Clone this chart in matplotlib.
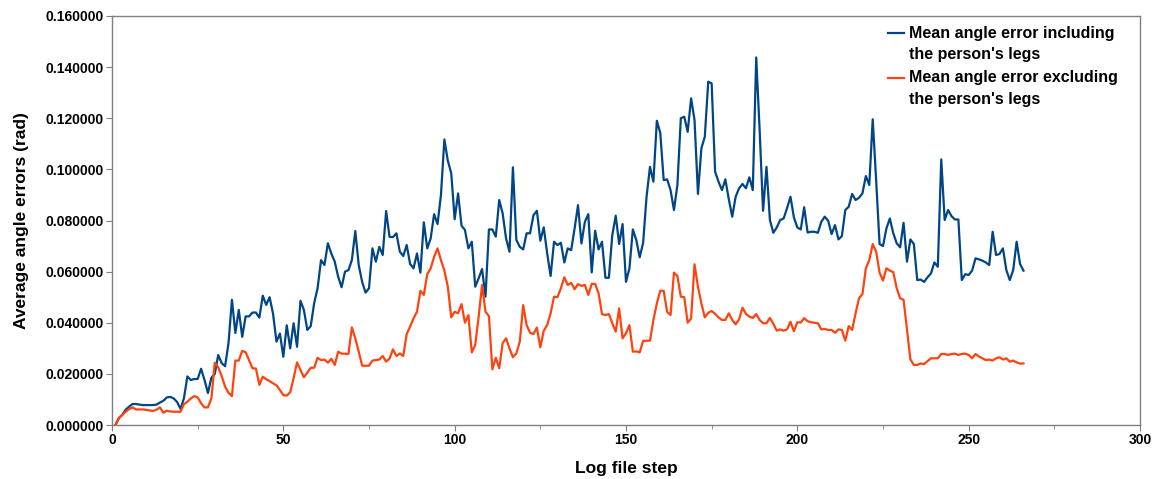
import numpy as np
import matplotlib
matplotlib.use("Agg")
import matplotlib.pyplot as plt
from matplotlib.ticker import FormatStrFormatter, MultipleLocator

# mean angle error per log file step
incl_legs = [
    0.0, 0.0027, 0.004, 0.006, 0.0072, 0.0082, 0.0082, 0.008, 0.0078, 0.0078,
    0.0078, 0.0078, 0.008, 0.0088, 0.0095, 0.0108, 0.011, 0.0104, 0.009, 0.0063,
    0.0105, 0.019, 0.0176, 0.018, 0.018, 0.022, 0.0176, 0.0125, 0.0185, 0.02,
    0.0274, 0.0242, 0.023, 0.032, 0.049, 0.036, 0.045, 0.0345, 0.0425, 0.0425,
    0.044, 0.044, 0.042, 0.0506, 0.047, 0.05, 0.0435, 0.0326, 0.0358, 0.0267,
    0.039, 0.030, 0.0398, 0.0306, 0.0486, 0.045, 0.0372, 0.0387, 0.0477, 0.0535,
    0.0645, 0.0626, 0.0711, 0.0671, 0.0639, 0.058, 0.0539, 0.060, 0.0606, 0.0645,
    0.0759, 0.0626, 0.056, 0.0518, 0.0535, 0.0691, 0.0639, 0.0697, 0.0665, 0.0837,
    0.0736, 0.0735, 0.075, 0.0678, 0.0661, 0.0704, 0.063, 0.0613, 0.0671, 0.0596,
    0.0793, 0.0691, 0.073, 0.0825, 0.0786, 0.090, 0.1117, 0.1034, 0.0985, 0.0805,
    0.0906, 0.078, 0.0763, 0.0691, 0.0717, 0.0541, 0.0574, 0.061, 0.0502, 0.0765,
    0.0765, 0.0737, 0.088, 0.0828, 0.073, 0.0678, 0.1008, 0.0724, 0.0697, 0.0687,
    0.075, 0.075, 0.0821, 0.0838, 0.0721, 0.0773, 0.0671, 0.0583, 0.0717, 0.0704,
    0.0713, 0.0636, 0.0691, 0.0684, 0.0769, 0.086, 0.071, 0.0795, 0.0825, 0.0597,
    0.076, 0.0687, 0.0717, 0.0576, 0.0576, 0.0743, 0.0819, 0.0708, 0.0786, 0.056,
    0.0613, 0.0765, 0.0724, 0.0656, 0.0713, 0.0893, 0.101, 0.0952, 0.119, 0.1143,
    0.0958, 0.0961, 0.0919, 0.0841, 0.0939, 0.12, 0.1206, 0.1147, 0.1278, 0.1193,
    0.0904, 0.1082, 0.1128, 0.1343, 0.1336, 0.0991, 0.0952, 0.0919, 0.0961, 0.0883,
    0.0815, 0.0893, 0.0926, 0.0943, 0.0926, 0.0969, 0.0919, 0.1438, 0.1154, 0.0838,
    0.101, 0.0802, 0.0752, 0.0773, 0.0802, 0.0808, 0.0848, 0.0893, 0.0812, 0.0773,
    0.0765, 0.0852, 0.0753, 0.0756, 0.0756, 0.0752, 0.0795, 0.0815, 0.0799, 0.0747,
    0.0782, 0.0726, 0.0739, 0.0841, 0.0854, 0.0904, 0.088, 0.0889, 0.0906, 0.0974,
    0.0939, 0.1196, 0.0958, 0.0708, 0.070, 0.0769, 0.0808, 0.075, 0.0711, 0.0695,
    0.0791, 0.0639, 0.0726, 0.0708, 0.0567, 0.0569, 0.056, 0.0578, 0.0593, 0.0636,
    0.0619, 0.1039, 0.0802, 0.0841, 0.0817, 0.0804, 0.0804, 0.0567, 0.059, 0.0587,
    0.0604, 0.0652, 0.0648, 0.0643, 0.0636, 0.0626, 0.0756, 0.0665, 0.0669, 0.0691,
    0.0606, 0.0567, 0.0606, 0.0717, 0.063, 0.0604,
]

excl_legs = [
    0.0, 0.0027, 0.0039, 0.0052, 0.0062, 0.0069, 0.0061, 0.0061, 0.0061, 0.0059,
    0.0057, 0.0055, 0.006, 0.0069, 0.0048, 0.0056, 0.0053, 0.0052, 0.0052, 0.0052,
    0.0082, 0.0091, 0.0104, 0.0113, 0.0108, 0.0085, 0.0069, 0.0069, 0.0104, 0.0244,
    0.0226, 0.0192, 0.015, 0.0126, 0.0113, 0.0252, 0.0252, 0.029, 0.0285, 0.0254,
    0.0222, 0.0221, 0.0157, 0.0189, 0.0179, 0.0172, 0.0163, 0.0155, 0.0137, 0.0117,
    0.0115, 0.0128, 0.0183, 0.0245, 0.0215, 0.0187, 0.0205, 0.0224, 0.0224, 0.0263,
    0.0254, 0.0256, 0.0244, 0.0259, 0.0235, 0.0287, 0.0279, 0.0279, 0.0278, 0.0382,
    0.0339, 0.0287, 0.0232, 0.0232, 0.0232, 0.0252, 0.0254, 0.0256, 0.027, 0.0248,
    0.026, 0.0296, 0.027, 0.028, 0.027, 0.0356, 0.0385, 0.0417, 0.0443, 0.0525,
    0.0509, 0.059, 0.0613, 0.0658, 0.0691, 0.0645, 0.0604, 0.0541, 0.0421, 0.0443,
    0.0437, 0.0473, 0.040, 0.043, 0.0284, 0.0313, 0.0424, 0.0548, 0.0443, 0.0426,
    0.0218, 0.0263, 0.0222, 0.032, 0.0339, 0.030, 0.0265, 0.028, 0.0326, 0.0469,
    0.0391, 0.0361, 0.0356, 0.0381, 0.0304, 0.0369, 0.0391, 0.0437, 0.0502, 0.050,
    0.0535, 0.0578, 0.0548, 0.0556, 0.0531, 0.0551, 0.0544, 0.0548, 0.0509, 0.0552,
    0.0552, 0.0515, 0.0434, 0.043, 0.0434, 0.0398, 0.0365, 0.0456, 0.0339, 0.0359,
    0.0391, 0.0287, 0.0288, 0.0284, 0.0329, 0.033, 0.033, 0.0411, 0.0476, 0.0525,
    0.0525, 0.0443, 0.043, 0.0596, 0.0583, 0.0502, 0.050, 0.040, 0.0417, 0.0629,
    0.0541, 0.0476, 0.0421, 0.0439, 0.0446, 0.0435, 0.0421, 0.0411, 0.0411, 0.0437,
    0.0411, 0.0394, 0.0413, 0.0459, 0.0435, 0.0424, 0.0419, 0.0434, 0.0411, 0.0398,
    0.0398, 0.0419, 0.0396, 0.0369, 0.0374, 0.0369, 0.0374, 0.0404, 0.0367, 0.0402,
    0.0401, 0.0418, 0.0406, 0.0402, 0.040, 0.0398, 0.0374, 0.0376, 0.0372, 0.0372,
    0.0361, 0.0374, 0.0372, 0.033, 0.0387, 0.0372, 0.0437, 0.0496, 0.0512, 0.0613,
    0.0645, 0.0708, 0.0678, 0.0596, 0.0565, 0.0613, 0.0604, 0.0598, 0.0535, 0.0496,
    0.049, 0.0372, 0.0257, 0.0235, 0.0235, 0.0241, 0.0238, 0.025, 0.0261, 0.0261,
    0.0261, 0.0278, 0.0278, 0.0274, 0.0278, 0.0279, 0.0274, 0.0278, 0.0279, 0.0274,
    0.0261, 0.0278, 0.0268, 0.0261, 0.0254, 0.0256, 0.0252, 0.0261, 0.0265, 0.0256,
    0.0261, 0.0248, 0.0252, 0.0245, 0.024, 0.0241,
]

labels = ["Mean angle error including\nthe person's legs",
          "Mean angle error excluding\nthe person's legs"]

plt.rcParams['font.family'] = ['Liberation Sans', 'DejaVu Sans']
plt.rcParams['font.weight'] = 'bold'

fig = plt.figure(figsize=(11.57, 4.79), dpi=100)
ax = fig.add_axes([0.0968, 0.1127, 0.8885, 0.8539])

x1 = np.arange(1, len(incl_legs) + 1)
x2 = np.arange(1, len(excl_legs) + 1)
ax.plot(x1, incl_legs, color='#004586', lw=1.6, label=labels[0])
ax.plot(x2, excl_legs, color='#ff420e', lw=1.6, label=labels[1])

ax.set_xlim(0, 300)
ax.set_ylim(0, 0.16)
ax.xaxis.set_major_locator(MultipleLocator(50))
ax.xaxis.set_minor_locator(MultipleLocator(25))
ax.yaxis.set_major_locator(MultipleLocator(0.02))
ax.yaxis.set_major_formatter(FormatStrFormatter('%.6f'))

for s in ax.spines.values():
    s.set_color('#808080')
    s.set_linewidth(1)
ax.tick_params(which='major', direction='out', length=4, color='#808080',
               labelsize=10, pad=2)
ax.tick_params(which='minor', direction='out', length=3, color='#808080')
for t in ax.get_xticklabels() + ax.get_yticklabels():
    t.set_fontweight('bold')

ax.set_xlabel("Log file step", fontsize=12.5, fontweight='bold', labelpad=10)
ax.set_ylabel("Average angle errors (rad)", fontsize=12.5, fontweight='bold', labelpad=12)

leg = ax.legend(loc='upper right', frameon=False, fontsize=11.5,
                handlelength=1.0, handletextpad=0.3, labelspacing=0.5,
                borderaxespad=0.2, bbox_to_anchor=(0.988, 1.0))
for t in leg.get_texts():
    t.set_fontweight('bold')
    t.set_linespacing(1.55)
# put the legend line next to the first text line, as in the original
for ln in leg.get_lines():
    ln.set_ydata(np.asarray(ln.get_ydata()) + 8)

fig.savefig("out.png", dpi=100)
